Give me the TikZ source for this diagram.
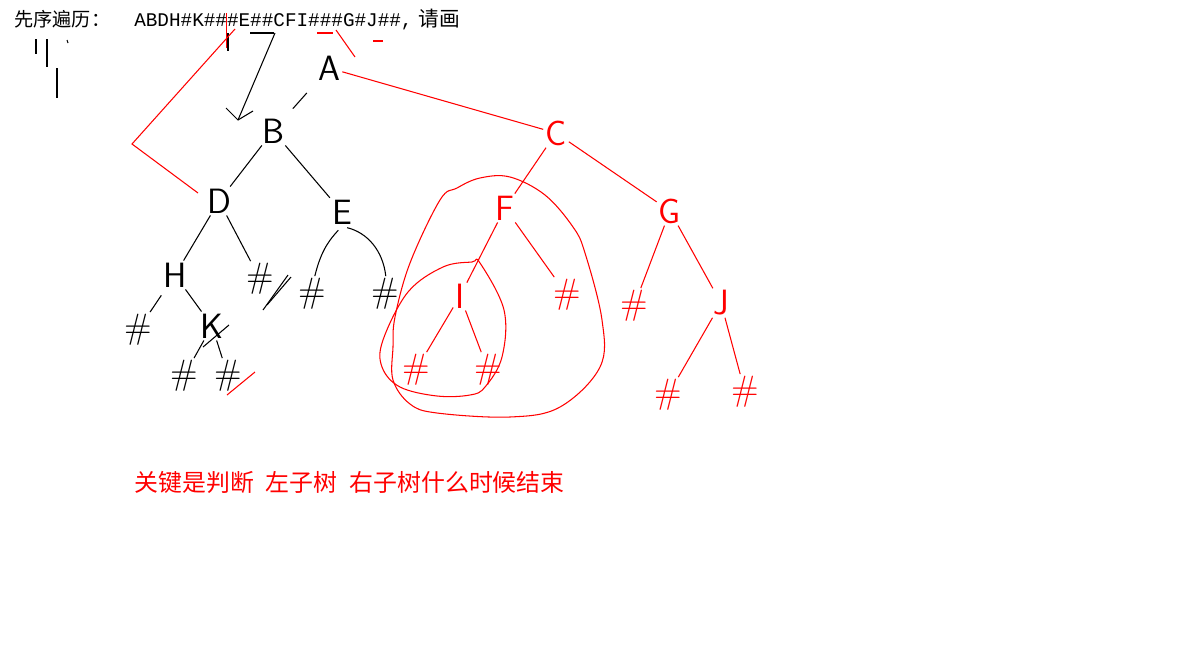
\documentclass[tikz,border=0pt]{standalone}
\usepackage{fontspec}
\setmonofont{Liberation Mono}
\newfontfamily\cjk{Noto Sans CJK SC}
\usetikzlibrary{positioning}

\begin{document}
\begin{tikzpicture}[x=0.02cm, y=-0.02cm, line width=0.6pt,
  vtx/.style={font=\fontsize{20}{20}\selectfont\sffamily, inner sep=1pt},
  note/.style={text=red, font=\fontsize{13.6}{14}\selectfont\cjk, anchor=base west, inner sep=0pt}]
\useasboundingbox (0,0) rectangle (1183,649);
% title
\node[anchor=base west, inner sep=0pt] (title) at (14,27) {{\fontsize{10.9}{12}\selectfont\cjk 先序遍历：}\hspace{0.48cm}{\fontsize{11}{12}\selectfont\ttfamily ABDH\#K\#\#\#E\#\#CFI\#\#\#G\#J\#\#,}\hspace{0.12cm}{\fontsize{11.8}{12}\selectfont\cjk 请画}};
% left part, black
\node[vtx] (a) at (329,68) {A};
\node[vtx] (b) at (273,131) {B};
\node[vtx] (d) at (219,201) {D};
\node[vtx] (e) at (342,212) {E};
\node[vtx] (h) at (175,275) {H};
\node[vtx] (dn) at (260,279) {\#};
\node[vtx] (e1) at (312,294) {\#};
\node[vtx] (e2) at (385,294) {\#};
\node[vtx] (h1) at (138,330) {\#};
\node[vtx] (k) at (212,326) {K};
\node[vtx] (k1) at (184,376) {\#};
\node[vtx] (k2) at (228,376) {\#};
% right part, red
\node[vtx, red] (c) at (556,133) {C};
\node[vtx, red] (f) at (505,208) {F};
\node[vtx, red] (g) at (670,211) {G};
\node[vtx, red] (i) at (460,296) {I};
\node[vtx, red] (fn) at (567,295) {\#};
\node[vtx, red] (g1) at (634,306) {\#};
\node[vtx, red] (j) at (721,303) {J};
\node[vtx, red] (i1) at (416,370) {\#};
\node[vtx, red] (i2) at (488,370) {\#};
\node[vtx, red] (j1) at (668,395) {\#};
\node[vtx, red] (j2) at (745,392) {\#};
\draw[shorten <=8pt, shorten >=6pt] (a) -- (b);
\draw (b) -- (d);
\draw (b) -- (e);
\draw (d) -- (h);
\draw (d) -- (dn);
\draw[shorten <=3pt] (e.south) to[bend right=15] (e1);
\draw[shorten <=3pt] (e.south) to[bend left=35] (e2);
\draw[shorten <=4pt] (h) -- (h1);
\draw (h) -- (k);
\draw (k) -- (k1);
\draw (k) -- (k2);
\draw[red] (a) -- (c);
\draw[red] (c) -- (f);
\draw[red] (c) -- (g);
\draw[red] (f) -- (i);
\draw[red] (f) -- (fn);
\draw[red] (g) -- (g1);
\draw[red] (g) -- (j);
\draw[red] (i) -- (i1);
\draw[red] (i) -- (i2);
\draw[red] (j) -- (j1);
\draw[red] (j) -- (j2);
% scribbles
\draw (36,39) -- (36,54);
\draw (47,39) -- (47,67);
\draw (57,68) -- (57,98);
\draw (67,40) -- (68,43);
\draw (250,33) -- (274,33);
\draw (275,33) -- (238,120);
\draw (226,108) -- (238,120) -- (253,111);
\draw (228,33) -- (228,51);
\draw[red, line width=1pt] (226.5,13) -- (226.5,48);
\draw[red] (235,29) -- (132,144) -- (198,193);
\draw[red] (317,33) -- (333,33);
\draw[red] (336,30) -- (355,57);
\draw[red] (373,41) -- (383,41);
\draw (288,275) -- (263,310);
\draw (291,277) -- (267,305);
\draw (229,325) -- (203,347);
\draw[red] (227,395) -- (255,372);
% loops
\draw[red] plot[smooth cycle, tension=0.6] coordinates {(480,178) (510,177) (545,195) (573,227) (585,253) (602,320) (600,367) (560,407) (510,417) (437,413) (410,404) (393,380) (393,347) (395,317) (410,263) (440,200) (457,188)};
\draw[red] plot[smooth cycle, tension=0.6] coordinates {(472,262) (443,267) (408,292) (383,340) (382,367) (400,387) (437,396) (470,395) (485,387) (502,357) (504,310) (480,263)};
% remark
\node[note] (msg) at (134,491) {关键是判断\hspace{0.5em}左子树\hspace{0.5em}右子树什么时候结束};
\end{tikzpicture}
\end{document}
